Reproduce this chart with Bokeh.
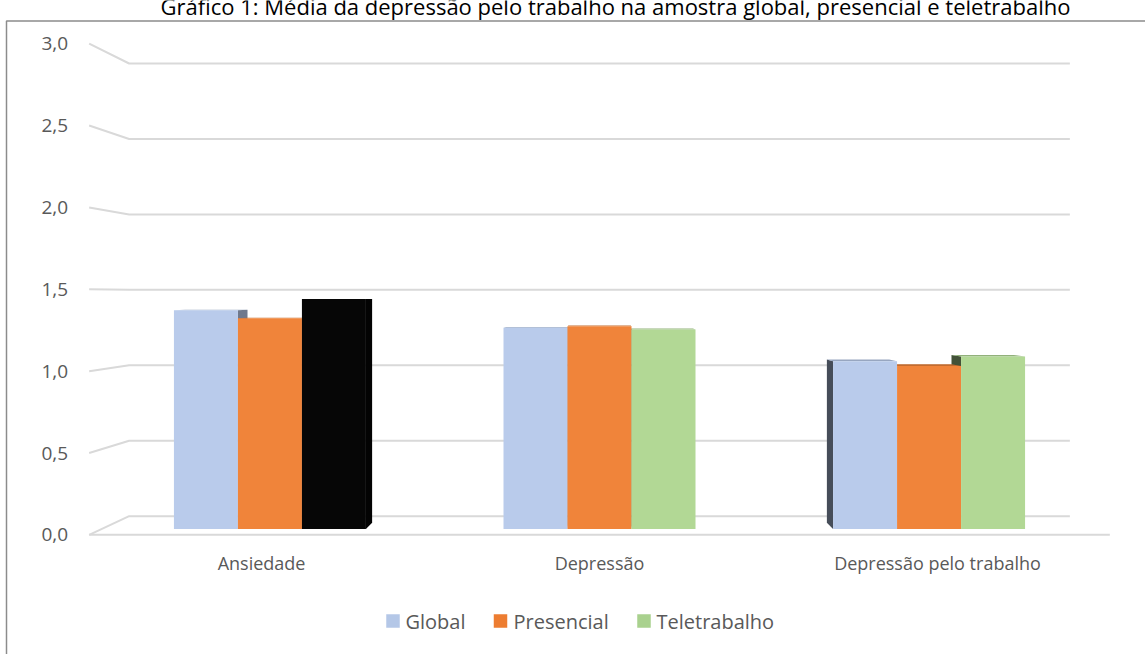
from bokeh.plotting import figure
from bokeh.models import Range1d, ColumnDataSource
from bokeh.core.properties import value
from bokeh.embed import file_html
from bokeh.resources import INLINE

# ---------------- data ----------------
categories = ["Ansiedade", "Depressão", "Depressão pelo trabalho"]
series_names = ["Global", "Presencial", "Teletrabalho"]
global_vals = [1.37, 1.26, 1.05]
presencial_vals = [1.32, 1.27, 1.02]
teletrabalho_vals = [1.44, 1.25, 1.08]
y_ticks = [0.0, 0.5, 1.0, 1.5, 2.0, 2.5, 3.0]
y_tick_labels = ["0,0", "0,5", "1,0", "1,5", "2,0", "2,5", "3,0"]
title_text = "Gráfico 1: Média da depressão pelo trabalho na amostra global, presencial e teletrabalho"

# ---------------- style ----------------
series_colors = ["#B9CBEB", "#F0843A", "#B2D895"]
legend_colors = ["#B4C7E7", "#ED7D31", "#A9D18E"]
bar_color_override = {(0, 2): "#060606"}   # the reference renders this bar black
TEXT = "#595959"
GRID = "#D9D9D9"
FONT = "Open Sans"

W, H = 1145, 654
VPX, VPY = 599.0, 296.0       # perspective vanishing point (px from left / top)
KX, KY = 311.5, 150.9         # back-wall px per unit
Y0_BACK = 515.7               # px of value 0 on back wall
S_BAR, S_BAR_BACK, S_FRONT = 1.058, 1.030, 1.085
BAR_W = 64.0 / (S_BAR * KX)
WALL_X0, WALL_X1 = -0.51, 2.51
VPYV = (Y0_BACK - VPY) / KY


def xr_for(s):
    return Range1d(1 - VPX / (s * KX), 1 + (W - VPX) / (s * KX))


def yr_for(s):
    return Range1d(((Y0_BACK - VPY) - (H - VPY) / s) / KY, ((Y0_BACK - VPY) + VPY / s) / KY)


def proj(x, y, s):
    return 1 + s * (x - 1), VPYV + s * (y - VPYV)


def bx(px):
    return 1 + (px - VPX) / KX


def by(py):
    return (Y0_BACK - py) / KY


def shade(hexc, f):
    h = hexc.lstrip("#")
    r, g, b = (int(h[i:i + 2], 16) for i in (0, 2, 4))
    return "#%02x%02x%02x" % (int(r * f), int(g * f), int(b * f))


p = figure(width=W, height=H, x_range=xr_for(1.0), y_range=yr_for(1.0),
           x_axis_type=None, y_axis_type=None, toolbar_location=None,
           output_backend="svg", min_border=0, outline_line_color=None,
           background_fill_color="white", border_fill_color="white")
p.extra_x_ranges = {"bar": xr_for(S_BAR)}
p.extra_y_ranges = {"bar": yr_for(S_BAR)}

# ---------------- border ----------------
p.line([bx(6), bx(6), bx(W + 5)], [by(H + 5), by(20.5), by(20.5)], line_color="#8C8C8C", line_width=1.5)

# ---------------- back wall gridlines + tick connectors ----------------
for v in y_ticks:
    fx, fy = proj(WALL_X0, v, S_FRONT)
    p.line([fx, WALL_X0, WALL_X1], [fy, v, v], line_color=GRID, line_width=2)
fx0, fy0 = proj(WALL_X0, 0, S_FRONT)
fx1, fy1 = proj(WALL_X1, 0, S_FRONT)
p.line([fx0, fx1], [fy0, fy1], line_color=GRID, line_width=2)

# tick labels at the front edge
tl = [proj(WALL_X0, v, S_FRONT) for v in y_ticks]
p.text(x=[t[0] for t in tl], y=[t[1] for t in tl], text=y_tick_labels,
       text_align="right", text_baseline="middle", x_offset=-21,
       text_font=value(FONT), text_font_size=value("19px"), text_color=TEXT)

# ---------------- bars ----------------
all_vals = [global_vals, presencial_vals, teletrabalho_vals]
xs, tops, cols = [], [], []
for ci in range(len(categories)):
    for si in range(len(series_names)):
        xs.append(ci + (si - 1) * BAR_W)
        tops.append(all_vals[si][ci])
        cols.append(bar_color_override.get((ci, si), series_colors[si]))

side_xs, side_ys, side_cols = [], [], []
top_xs, top_ys, top_cols = [], [], []
for x, v, c in zip(xs, tops, cols):
    xl, xr = x - BAR_W / 2, x + BAR_W / 2
    if abs(x - 1) > 1e-6:
        edge = xr if x < 1 else xl
        f = 0.6 if x < 1 else 0.38
        pts = [proj(edge, 0, S_BAR), proj(edge, v, S_BAR), proj(edge, v, S_BAR_BACK), proj(edge, 0, S_BAR_BACK)]
        side_xs.append([q[0] for q in pts])
        side_ys.append([q[1] for q in pts])
        side_cols.append(shade(c, f))
    if v < VPYV:
        pts = [proj(xl, v, S_BAR), proj(xr, v, S_BAR), proj(xr, v, S_BAR_BACK), proj(xl, v, S_BAR_BACK)]
        top_xs.append([q[0] for q in pts])
        top_ys.append([q[1] for q in pts])
        top_cols.append(shade(c, 0.82))

p.patches(side_xs, side_ys, fill_color=side_cols, line_color=None)
p.patches(top_xs, top_ys, fill_color=top_cols, line_color=None)

src = ColumnDataSource(dict(x=xs, top=tops, color=cols))
p.vbar(x="x", top="top", bottom=0, width=BAR_W, fill_color="color", line_color=None,
       source=src, x_range_name="bar", y_range_name="bar")

# ---------------- category labels ----------------
cl = [proj(i, 0, S_FRONT) for i in range(len(categories))]
p.text(x=[c[0] for c in cl], y=[c[1] for c in cl], text=categories,
       text_align="center", text_baseline="middle", y_offset=28,
       text_font=value(FONT), text_font_size=value("18px"), text_color=TEXT)

# ---------------- legend ----------------
leg_sq_px = [392.5, 500.0, 643.5]
leg_tx_px = [405.0, 513.0, 656.0]
leg_y = 620.5
p.rect(x=[bx(v) for v in leg_sq_px], y=[by(leg_y)] * 3, width=13.5, height=13.5,
       width_units="screen", height_units="screen", fill_color=legend_colors, line_color=None)
p.text(x=[bx(v) for v in leg_tx_px], y=[by(leg_y)] * 3, text=series_names,
       text_align="left", text_baseline="middle",
       text_font=value(FONT), text_font_size=value("20px"), text_color=TEXT)

# ---------------- title (cut off at the top in the reference) ----------------
p.text(x=[bx(615)], y=[by(5)], text=[title_text], text_align="center",
       text_baseline="alphabetic", text_font=value(FONT), text_font_size=value("22px"),
       text_color="#000000")

open("out.html", "w").write(file_html(p, INLINE))
